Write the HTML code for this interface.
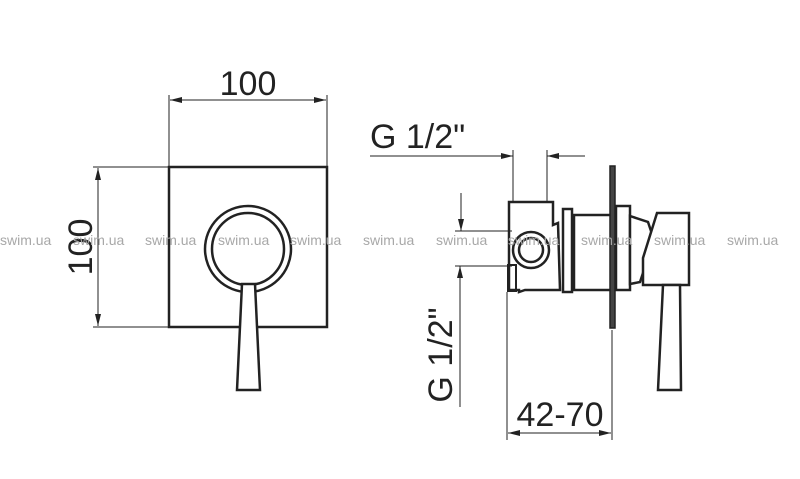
<!DOCTYPE html>
<html><head><meta charset="utf-8"><style>
html,body{margin:0;padding:0;background:#fff}
svg{display:block}
text{font-family:"Liberation Sans",sans-serif}
</style></head><body>
<svg width="800" height="479" viewBox="0 0 800 479" xmlns="http://www.w3.org/2000/svg">
<defs>
<marker id="a" viewBox="0 0 12 6" refX="12" refY="3" markerWidth="12" markerHeight="6" orient="auto-start-reverse" markerUnits="userSpaceOnUse"><path d="M0,0 L12,3 L0,6 z" fill="#222"/></marker>
</defs>
<g stroke="#222" fill="none">
<rect x="169" y="167" width="158" height="160" stroke-width="2.5"/>
<line x1="169" y1="95" x2="169" y2="167" stroke-width="1"/>
<line x1="327" y1="95" x2="327" y2="167" stroke-width="1"/>
<line x1="170" y1="100" x2="326" y2="100" stroke-width="1" marker-start="url(#a)" marker-end="url(#a)"/>
<line x1="93" y1="167" x2="169" y2="167" stroke-width="1"/>
<line x1="93" y1="327" x2="169" y2="327" stroke-width="1"/>
<line x1="98" y1="168" x2="98" y2="326" stroke-width="1" marker-start="url(#a)" marker-end="url(#a)"/>
<circle cx="248" cy="249" r="43" stroke-width="2.5"/>
<circle cx="248" cy="249" r="36" stroke-width="2.5" fill="#fff"/>
<path d="M242,284 L255,284 L260,390 L237,390 Z" stroke-width="2.5" fill="#fff"/>
<line x1="370" y1="156" x2="513" y2="156" stroke-width="1"/>
<line x1="493" y1="156" x2="513" y2="156" stroke-width="1" marker-end="url(#a)"/>
<line x1="585" y1="156" x2="547" y2="156" stroke-width="1" marker-end="url(#a)"/>
<line x1="513" y1="150" x2="513" y2="202" stroke-width="1"/>
<line x1="547" y1="150" x2="547" y2="202" stroke-width="1"/>
<path d="M509,202 L553,202 L553,225 L558,223 L560,290 L525,290 L519,292 L519,290 L509,290 Z" stroke-width="2.5" fill="#fff"/>
<rect x="508" y="265" width="8" height="26" stroke-width="2"/>
<circle cx="531" cy="250" r="18" stroke-width="2.5" fill="#fff"/>
<circle cx="531" cy="250" r="12" stroke-width="2.5"/>
<rect x="563" y="209" width="9" height="83" stroke-width="2.5" fill="#fff"/>
<rect x="574" y="215" width="37" height="75" stroke-width="2.5" fill="#fff"/>
<rect x="610" y="166" width="5" height="162" stroke-width="1.5" fill="#444"/>
<rect x="616" y="206" width="14" height="84" stroke-width="2.5" fill="#fff"/>
<path d="M630,216 L648,222 L654,240 L640,282 L630,284 Z" stroke-width="2.5" fill="#fff"/>
<path d="M657,213 L689,213 L689,285 L643,285 L643,258 Z" stroke-width="2.5" fill="#fff"/>
<path d="M663,285 L680,285 L681,390 L658,390 Z" stroke-width="2.5" fill="#fff"/>
<line x1="461" y1="193" x2="461" y2="231" stroke-width="1" marker-end="url(#a)"/>
<line x1="455" y1="231" x2="512" y2="231" stroke-width="1"/>
<line x1="455" y1="266" x2="512" y2="266" stroke-width="1"/>
<line x1="460" y1="407" x2="460" y2="266" stroke-width="1" marker-end="url(#a)"/>
<line x1="507" y1="292" x2="507" y2="440" stroke-width="1"/>
<line x1="612" y1="330" x2="612" y2="440" stroke-width="1"/>
<line x1="508" y1="433" x2="611" y2="433" stroke-width="1" marker-start="url(#a)" marker-end="url(#a)"/>
</g>
<g fill="#222" font-size="34">
<text x="248" y="95" text-anchor="middle">100</text>
<text transform="translate(92,247) rotate(-90)" text-anchor="middle">100</text>
<text x="370" y="148">G 1/2"</text>
<text transform="translate(452,355) rotate(-90)" text-anchor="middle">G 1/2"</text>
<text x="560" y="426" text-anchor="middle">42-70</text>
</g>
<g fill="#a8a8a8" font-size="14">
<text x="0" y="245">swim.ua</text><text x="73" y="245">swim.ua</text><text x="145" y="245">swim.ua</text><text x="218" y="245">swim.ua</text><text x="290" y="245">swim.ua</text><text x="363" y="245">swim.ua</text><text x="436" y="245">swim.ua</text><text x="508" y="245">swim.ua</text><text x="581" y="245">swim.ua</text><text x="654" y="245">swim.ua</text><text x="727" y="245">swim.ua</text>
</g>
</svg>
</body></html>
